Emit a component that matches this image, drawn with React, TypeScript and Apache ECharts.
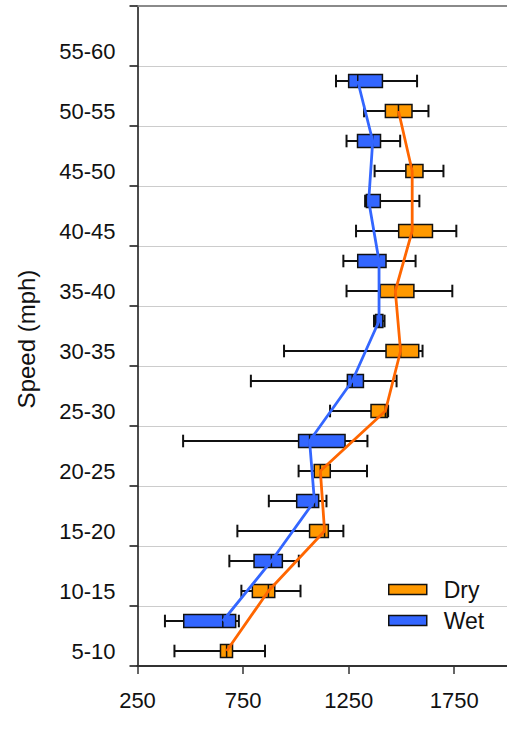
import React, { useEffect, useRef } from "react";
import * as echarts from "echarts";

// Speed bands, bottom to top
const speedBands = [
  "5-10", "10-15", "15-20", "20-25", "25-30", "30-35",
  "35-40", "40-45", "45-50", "50-55", "55-60",
];

// [min, Q1, median, Q3, max] per speed band (no data in 55-60)
const dryStats = [
  [425, 643, 672, 700, 854],
  [742, 794, 870, 900, 1022],
  [723, 1065, 1136, 1154, 1225],
  [1013, 1087, 1116, 1163, 1337],
  [1162, 1356, 1424, 1433, 1437],
  [944, 1427, 1496, 1582, 1600],
  [1240, 1400, 1471, 1559, 1741],
  [1285, 1487, 1551, 1647, 1760],
  [1373, 1521, 1551, 1602, 1699],
  [1323, 1424, 1486, 1550, 1628],
];

const wetStats = [
  [380, 469, 654, 715, 730],
  [685, 802, 884, 936, 1014],
  [872, 1004, 1088, 1108, 1145],
  [466, 1013, 1065, 1233, 1339],
  [787, 1244, 1267, 1320, 1477],
  [1370, 1378, 1394, 1412, 1420],
  [1225, 1293, 1394, 1427, 1567],
  [1328, 1334, 1345, 1400, 1585],
  [1240, 1292, 1364, 1401, 1494],
  [1190, 1250, 1293, 1410, 1574],
];

const xTickValues = [250, 750, 1250, 1750];

// position of each group's box inside its speed band
const DRY_POS = 0.25;
const WET_POS = 0.75;

const DRY_FILL = "#FF9900";
const WET_FILL = "#3366FF";
const DRY_LINE = "#FF6600";
const WET_LINE = "#3366FF";
const INK = "#111111";
const FONT = "'Liberation Sans', Arial, sans-serif";

const boxRenderer = (fill: string) => (params: any, api: any) => {
  const y = api.value(0);
  const [xMin, yc] = api.coord([api.value(1), y]);
  const xQ1 = api.coord([api.value(2), y])[0];
  const xMed = api.coord([api.value(3), y])[0];
  const xQ3 = api.coord([api.value(4), y])[0];
  const xMax = api.coord([api.value(5), y])[0];
  const band = api.size([0, 1])[1];
  const boxH = band * 0.22;
  const capH = band * 0.105;
  const whisker = { stroke: INK, lineWidth: 2 };
  return {
    type: "group",
    children: [
      { type: "line", shape: { x1: xMin, y1: yc, x2: xMax, y2: yc }, style: whisker },
      { type: "line", shape: { x1: xMin, y1: yc - capH, x2: xMin, y2: yc + capH }, style: whisker },
      { type: "line", shape: { x1: xMax, y1: yc - capH, x2: xMax, y2: yc + capH }, style: whisker },
      {
        type: "rect",
        shape: { x: xQ1, y: yc - boxH / 2, width: xQ3 - xQ1, height: boxH },
        style: { fill, stroke: INK, lineWidth: 1.5 },
      },
      {
        type: "line",
        shape: { x1: xMed, y1: yc - boxH / 2, x2: xMed, y2: yc + boxH / 2 },
        style: { stroke: INK, lineWidth: 1.5 },
      },
    ],
  };
};

export default function App() {
  const ref = useRef<HTMLDivElement>(null);

  useEffect(() => {
    if (!ref.current) return;
    const chart = echarts.init(ref.current, null, { renderer: "svg" });

    const dryData = dryStats.map((s, i) => [i + DRY_POS, ...s]);
    const wetData = wetStats.map((s, i) => [i + WET_POS, ...s]);
    const dryMedians = dryStats.map((s, i) => [s[2], i + DRY_POS]);
    const wetMedians = wetStats.map((s, i) => [s[2], i + WET_POS]);

    chart.setOption({
      animation: false,
      backgroundColor: "#ffffff",
      textStyle: { fontFamily: FONT },
      grid: { left: 137.5, right: -9.6, top: 6, bottom: 63, containLabel: false },
      legend: {
        orient: "vertical",
        left: 383,
        top: 573,
        itemWidth: 38,
        itemHeight: 10,
        itemGap: 8,
        icon: "rect",
        textStyle: { fontSize: 23, color: INK, fontFamily: FONT, padding: [0, 0, 0, 12] },
        data: [
          { name: "Dry", itemStyle: { color: DRY_FILL, borderColor: INK, borderWidth: 1.5 } },
          { name: "Wet", itemStyle: { color: WET_FILL, borderColor: INK, borderWidth: 1.5 } },
        ],
      },
      xAxis: [
        {
          type: "value",
          min: 250,
          max: 2000,
          interval: 500,
          axisLine: { show: true, lineStyle: { color: "#333333", width: 2 } },
          axisTick: { show: true, customValues: xTickValues, length: 8, lineStyle: { color: "#333333", width: 1.5 } },
          axisLabel: {
            customValues: xTickValues,
            formatter: (v: number) => String(v),
            margin: 23,
            fontSize: 22,
            color: INK,
            fontFamily: FONT,
          },
          splitLine: { show: false },
        },
        {
          type: "value",
          position: "top",
          min: 250,
          max: 2000,
          axisLine: { show: true, lineStyle: { color: "#8a8a8a", width: 2 } },
          axisTick: { show: false },
          axisLabel: { show: false },
          splitLine: { show: false },
        },
      ],
      yAxis: {
        type: "value",
        min: 0,
        max: 11,
        interval: 1,
        name: "Speed (mph)",
        nameLocation: "middle",
        nameGap: 99,
        nameRotate: 90,
        nameTextStyle: { fontSize: 24, color: INK, fontFamily: FONT, padding: [0, 6, 0, 0] },
        axisLine: { show: true, lineStyle: { color: INK, width: 1.5 } },
        axisTick: {
          show: true,
          customValues: speedBands.map((_, i) => i).concat([speedBands.length]),
          length: 8,
          lineStyle: { color: INK, width: 1.5 },
        },
        axisLabel: {
          customValues: speedBands.map((_, i) => i + DRY_POS),
          formatter: (v: number) => speedBands[Math.round(v - DRY_POS)] ?? "",
          margin: 22,
          fontSize: 22,
          color: INK,
          fontFamily: FONT,
        },
        splitLine: { show: true, lineStyle: { color: "#cccccc", width: 1 } },
      },
      series: [
        {
          name: "Dry",
          type: "custom",
          renderItem: boxRenderer(DRY_FILL),
          itemStyle: { color: DRY_FILL },
          encode: { x: [1, 2, 3, 4, 5], y: 0 },
          data: dryData,
          z: 2,
        },
        {
          name: "Wet",
          type: "custom",
          renderItem: boxRenderer(WET_FILL),
          itemStyle: { color: WET_FILL },
          encode: { x: [1, 2, 3, 4, 5], y: 0 },
          data: wetData,
          z: 2,
        },
        {
          name: "Dry median",
          type: "line",
          data: dryMedians,
          symbol: "none",
          lineStyle: { color: DRY_LINE, width: 2.8 },
          z: 5,
        },
        {
          name: "Wet median",
          type: "line",
          data: wetMedians,
          symbol: "none",
          lineStyle: { color: WET_LINE, width: 2.8 },
          z: 5,
        },
      ],
    });

    return () => chart.dispose();
  }, []);

  return (
    <div
      ref={ref}
      style={{ position: "absolute", left: 0, top: 0, width: 507, height: 729 }}
    />
  );
}
